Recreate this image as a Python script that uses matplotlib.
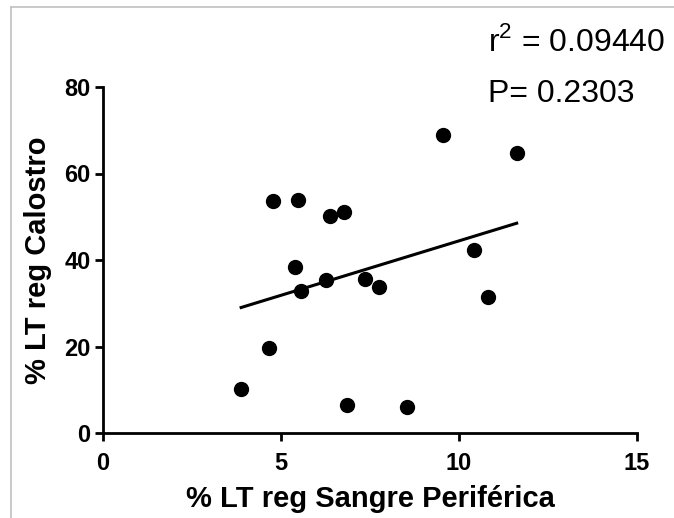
import matplotlib
matplotlib.use("Agg")
import matplotlib.pyplot as plt
from matplotlib.lines import Line2D
import numpy as np

x_vals = [3.88, 4.66, 4.78, 5.47, 5.38, 5.57, 6.37, 6.76, 6.26, 6.86, 7.35, 7.75, 8.55, 9.54, 10.43, 10.82, 11.62]
y_vals = [10.2, 19.6, 53.6, 53.9, 38.4, 32.8, 50.2, 51.1, 35.4, 6.5, 35.5, 33.8, 6.1, 68.8, 42.4, 31.4, 64.8]
x_ticks = [0, 5, 10, 15]
y_ticks = [0, 20, 40, 60, 80]
x_label = "% LT reg Sangre Periférica"
y_label = "% LT reg Calostro"
r2_text = "r$^2$ = 0.09440"
p_text = "P= 0.2303"

plt.rcParams['font.family'] = ['Liberation Sans', 'DejaVu Sans']
plt.rcParams['mathtext.fontset'] = 'custom'
plt.rcParams['mathtext.rm'] = 'Liberation Sans'

fig = plt.figure(figsize=(6.74, 5.18), dpi=100)
ax = fig.add_axes([103/674, 1-433/518, (637-103)/674, (433-87)/518])

ax.plot(x_vals, y_vals, 'o', color='black', markersize=10, zorder=3)
slope, intercept = np.polyfit(x_vals, y_vals, 1)
xl = np.array([min(x_vals), max(x_vals)])
ax.plot(xl, slope*xl + intercept, color='black', lw=2.2)

ax.set_xlim(0, 15)
ax.set_ylim(0, 80)
ax.set_xticks(x_ticks)
ax.set_yticks(y_ticks)
for s in ['top', 'right']:
    ax.spines[s].set_visible(False)
for s in ['left', 'bottom']:
    ax.spines[s].set_linewidth(2.0)
ax.tick_params(width=2.0, length=6, labelsize=17, pad=3)
ax.tick_params(axis='x', pad=8)
for lab in ax.get_xticklabels() + ax.get_yticklabels():
    lab.set_fontweight('bold')
ax.set_xlabel(x_label, fontsize=21, fontweight='bold', labelpad=7)
ax.set_ylabel(y_label, fontsize=21, fontweight='bold', labelpad=9)

fig.text(488/674, 1-42/518, r2_text, fontsize=23, va='center', ha='left')
fig.text(488/674, 1-94/518, p_text, fontsize=23, va='center', ha='left')

fig.add_artist(Line2D([10.5/674, 1], [1-7/518, 1-7/518], color='#c0c0c0', lw=1.2))
fig.add_artist(Line2D([10.5/674, 10.5/674], [0, 1-7/518], color='#c0c0c0', lw=1.2))

fig.savefig('out.png', dpi=100)
